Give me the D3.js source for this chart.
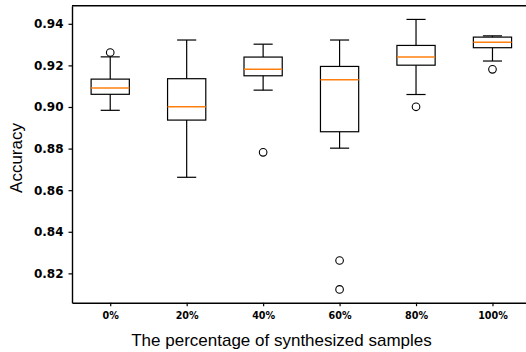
<!DOCTYPE html>
<meta charset="utf-8">
<script src="https://d3js.org/d3.v7.min.js"></script>
<style>
  body { margin: 0; background: white; }
  .tick text { font-family: "DejaVu Sans", sans-serif; font-weight: bold; }
  .axlabel { font-family: "Liberation Sans", Arial, sans-serif; font-size: 17px; }
</style>
<div id="chart"></div>
<script>
// data
var categories = ["0%", "20%", "40%", "60%", "80%", "100%"];
var whiskerLow  = [0.8984, 0.8662, 0.9081, 0.8802, 0.9060, 0.9221];
var q1          = [0.9061, 0.8937, 0.9150, 0.8881, 0.9201, 0.9285];
var median      = [0.9091, 0.9001, 0.9181, 0.9131, 0.9240, 0.9311];
var q3          = [0.9134, 0.9136, 0.9240, 0.9195, 0.9296, 0.9336];
var whiskerHigh = [0.9241, 0.9322, 0.9302, 0.9322, 0.9421, 0.9342];
var outliers    = [[0.9262], [], [0.8782], [0.8262, 0.8123], [0.9001], [0.9181]];
var yTicks = [0.82, 0.84, 0.86, 0.88, 0.90, 0.92, 0.94];

var W = 526, H = 352;
var plotLeft = 72, plotTop = 5.7, plotBottom = 302.7, plotRight = 530.7;

var svg = d3.select("#chart").append("svg")
    .attr("width", W).attr("height", H);

var x = d3.scaleLinear().domain([0.5, 6.5]).range([plotLeft, plotRight]);
var y = d3.scaleLinear().domain([0.8059, 0.9487]).range([plotBottom, plotTop]);

var data = categories.map(function(c, i) {
  return {cat: c, pos: i + 1, lo: whiskerLow[i], q1: q1[i], med: median[i],
          q3: q3[i], hi: whiskerHigh[i], out: outliers[i]};
});

var boxW = x(1.25) - x(1);   // half width
var capW = x(1.125) - x(1);

var g = svg.append("g");
var box = g.selectAll(".box").data(data).enter().append("g").attr("class", "box");

// whiskers
box.append("line")
  .attr("x1", function(d) { return x(d.pos); }).attr("x2", function(d) { return x(d.pos); })
  .attr("y1", function(d) { return y(d.lo); }).attr("y2", function(d) { return y(d.q1); })
  .attr("stroke", "black").attr("stroke-width", 1.2);
box.append("line")
  .attr("x1", function(d) { return x(d.pos); }).attr("x2", function(d) { return x(d.pos); })
  .attr("y1", function(d) { return y(d.q3); }).attr("y2", function(d) { return y(d.hi); })
  .attr("stroke", "black").attr("stroke-width", 1.2);
// caps
["lo", "hi"].forEach(function(k) {
  box.append("line")
    .attr("x1", function(d) { return x(d.pos) - capW; }).attr("x2", function(d) { return x(d.pos) + capW; })
    .attr("y1", function(d) { return y(d[k]); }).attr("y2", function(d) { return y(d[k]); })
    .attr("stroke", "black").attr("stroke-width", 1.2);
});
// boxes
box.append("rect")
  .attr("x", function(d) { return x(d.pos) - boxW; })
  .attr("width", 2 * boxW)
  .attr("y", function(d) { return y(d.q3); })
  .attr("height", function(d) { return y(d.q1) - y(d.q3); })
  .attr("fill", "none").attr("stroke", "black").attr("stroke-width", 1.2);
// medians
box.append("line")
  .attr("x1", function(d) { return x(d.pos) - boxW; }).attr("x2", function(d) { return x(d.pos) + boxW; })
  .attr("y1", function(d) { return y(d.med); }).attr("y2", function(d) { return y(d.med); })
  .attr("stroke", "#ff7f0e").attr("stroke-width", 1.5);
// fliers
box.selectAll("circle").data(function(d) { return d.out.map(function(v) { return {pos: d.pos, v: v}; }); })
  .enter().append("circle")
  .attr("cx", function(d) { return x(d.pos); })
  .attr("cy", function(d) { return y(d.v); })
  .attr("r", 3.8)
  .attr("fill", "none").attr("stroke", "black").attr("stroke-width", 1.1);

// axes
var yAxis = svg.append("g")
  .attr("transform", "translate(" + plotLeft + ",0)")
  .call(d3.axisLeft(y).tickValues(yTicks).tickFormat(d3.format(".2f"))
        .tickSize(3.5).tickSizeOuter(0).tickPadding(5));
yAxis.selectAll("text").style("font-size", "12px");

var xAxis = svg.append("g")
  .attr("transform", "translate(0," + plotBottom + ")")
  .call(d3.axisBottom(x).tickValues(d3.range(1, 7)).tickFormat(function(d) { return categories[d - 1]; })
        .tickSize(3.5).tickSizeOuter(0).tickPadding(6));
xAxis.selectAll("text").style("font-size", "9.6px");

[yAxis, xAxis].forEach(function(a) {
  a.select(".domain").attr("stroke-width", 1.4);
  a.selectAll(".tick line").attr("stroke-width", 1.2);
});

// top spine
svg.append("line")
  .attr("x1", plotLeft).attr("x2", plotRight).attr("y1", plotTop).attr("y2", plotTop)
  .attr("stroke", "black").attr("stroke-width", 1.4);

// labels
svg.append("text").attr("class", "axlabel")
  .attr("x", 281.5).attr("y", 346)
  .attr("text-anchor", "middle")
  .text("The percentage of synthesized samples");

svg.append("text").attr("class", "axlabel")
  .attr("transform", "translate(22,158) rotate(-90)")
  .attr("text-anchor", "middle")
  .text("Accuracy");
</script>
